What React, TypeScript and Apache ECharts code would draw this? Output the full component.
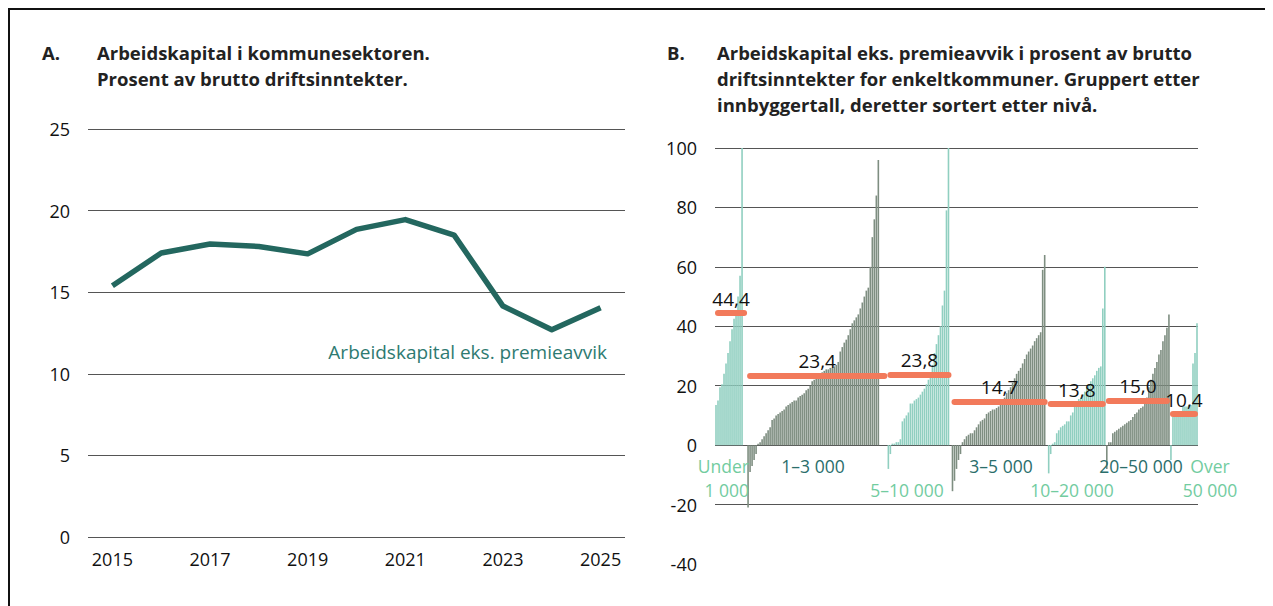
import React, { useEffect, useRef } from "react";
import * as echarts from "echarts";

// ---------- Panel A data ----------
const years = ["2015", "2016", "2017", "2018", "2019", "2020", "2021", "2022", "2023", "2024", "2025"];
const workingCapital = [15.4, 17.4, 17.95, 17.8, 17.35, 18.85, 19.45, 18.5, 14.15, 12.7, 14.05];
const lineSeriesName = "Arbeidskapital eks. premieavvik";

// ---------- Panel B data (sorted municipalities per population group) ----------
const groupNames = ["Under\n1 000", "1–3 000", "5–10 000", "3–5 000", "10–20 000", "20–50 000", "Over\n50 000"];
const groupAverages = [44.4, 23.4, 23.8, 14.7, 13.8, 15.0, 10.4];
const gapAfter = [2, 4, 1, 1, 0, 0, 0];

const under1000 = [13.5, 15, 19.5, 20.5, 24, 27.5, 31, 35, 39, 42.5, 44, 50, 57, 100];
const from1to3000 = [
  -21, -9, -7, -5, -3, 0.5, 1, 2, 3, 4, 5, 6, 8.5, 9, 10, 10.5, 11, 11.5, 12, 13, 13.5, 14, 14.5, 15, 15,
  16, 16.5, 17, 17.5, 18.5, 19, 20, 21.5, 22, 23, 23.5, 24, 24.5, 25, 25.5, 25.5, 26, 26, 26.5, 27, 28,
  31.5, 33, 34.5, 35.5, 37, 39, 41, 42, 43, 44, 46, 48, 50, 52, 53, 60, 70, 76, 84, 96,
];
const from5to10000 = [
  -8, -3, 0.5, 0.5, 1, 1, 2, 8, 9, 10, 11, 14, 14, 15, 15.5, 16, 17, 18, 19, 20.5, 22, 24, 27, 31, 34, 37,
  40, 47, 52, 79, 100,
];
const from3to5000 = [
  -15.5, -12, -8, -5, -3, 1, 2, 3, 3.5, 4, 4, 5, 6, 7, 8, 8.5, 9, 10.5, 11, 11.5, 12, 12, 12.5, 13, 14, 15,
  16, 17.5, 18.5, 19.5, 21, 22.5, 24, 25, 26, 27.5, 29, 30.5, 31.5, 32.5, 33.5, 35, 36, 37, 38, 59, 64,
];
const from10to20000 = [
  -9.5, -3, 0.5, 1, 4, 5, 6, 6.5, 7, 8, 8, 10, 11, 13, 14, 15.5, 16, 17, 18, 19.5, 20.5, 21.5, 22.5, 23.5,
  25, 26, 26.5, 46, 60,
];
const from20to50000 = [
  -8, 1, 1, 4, 4.5, 5, 5.5, 6, 6.5, 7, 7.5, 8, 8.5, 9.5, 10.5, 11, 12, 12.5, 13, 14.5, 16, 19.5, 22, 24, 26,
  28, 30.5, 32, 35, 37, 39.5, 44,
];
const over50000 = [-5, 9.5, 9.5, 9.5, 10, 10.5, 13, 13, 13, 13.5, 13.5, 27.5, 31, 41];

const yTicksA = { min: 0, max: 25, interval: 5 };
const yTicksB = { min: -40, max: 100, interval: 20 };

// ---------- styles ----------
const FONT = "'Open Sans', 'Noto Sans', sans-serif";
const LIGHT = "#90cfc0";
const DARK = "#7e8e81";
const LIGHT_TEXT = "#72cc9f";
const DARK_TEXT = "#2b6e6b";
const ORANGE = "#f27a5b";
const TEAL = "#23675f";
const GRID = "#555";

const groupLabelLayout = [
  { x: 741, y: 458, align: "right" },
  { x: 805, y: 458, align: "center" },
  { x: 899, y: 482, align: "center" },
  { x: 993, y: 458, align: "center" },
  { x: 1064, y: 482, align: "center" },
  { x: 1133, y: 458, align: "center" },
  { x: 1202, y: 458, align: "center" },
];
const GROUP_LINE_STEP = 24;

export default function App() {
  const ref = useRef<HTMLDivElement>(null);

  useEffect(() => {
    if (!ref.current) return;
    const chart = echarts.init(ref.current, null, { renderer: "svg" });

    const groups = [under1000, from1to3000, from5to10000, from3to5000, from10to20000, from20to50000, over50000];
    const cats: string[] = [];
    const barData: any[] = [];
    const starts: number[] = [];
    groups.forEach((g, gi) => {
      starts.push(cats.length);
      const color = gi % 2 === 0 ? LIGHT : DARK;
      g.forEach((v) => {
        barData.push({ value: v, itemStyle: { color } });
        cats.push(String(cats.length));
      });
      for (let k = 0; k < gapAfter[gi]; k++) {
        barData.push("-");
        cats.push(String(cats.length));
      }
    });
    const total = cats.length;

    const avgLines = groupAverages.map((avg, gi) => {
      const next = gi < groupAverages.length - 1 ? starts[gi + 1] : total;
      return [
        {
          coord: [starts[gi] + 1, avg],
          label: { formatter: avg.toFixed(1).replace(".", ",") },
        },
        { coord: [next - 2, avg] },
      ];
    });

    const splitColorsB: string[] = [];
    for (let v = yTicksB.min; v <= yTicksB.max; v += yTicksB.interval) {
      splitColorsB.push(v < -20 ? "rgba(0,0,0,0)" : GRID);
    }

    const titleStyle = { font: `bold 18.5px ${FONT}`, fill: "#222", lineHeight: 26 };

    const groupTexts: any[] = [];
    groupNames.forEach((name, gi) => {
      name.split("\n").forEach((line, li) => {
        groupTexts.push({
          type: "text",
          x: groupLabelLayout[gi].x,
          y: groupLabelLayout[gi].y + li * GROUP_LINE_STEP,
          z: 10,
          style: {
            text: line,
            font: `17.5px ${FONT}`,
            fill: gi % 2 === 0 ? LIGHT_TEXT : DARK_TEXT,
            align: li === 0 || groupLabelLayout[gi].align !== "right" ? groupLabelLayout[gi].align : "right",
            verticalAlign: "middle",
          },
        });
      });
    });

    const graphic: any[] = [
      { type: "text", x: 34, y: 31, style: { ...titleStyle, text: "A." } },
      {
        type: "text",
        x: 89,
        y: 31,
        style: { ...titleStyle, text: "Arbeidskapital i kommunesektoren.\nProsent av brutto driftsinntekter." },
      },
      { type: "text", x: 659, y: 31, style: { ...titleStyle, text: "B." } },
      {
        type: "text",
        x: 709,
        y: 31,
        style: {
          ...titleStyle,
          text:
            "Arbeidskapital eks. premieavvik i prosent av brutto\ndriftsinntekter for enkeltkommuner. Gruppert etter\ninnbyggertall, deretter sortert etter nivå.",
        },
      },
      {
        type: "text",
        x: 599,
        y: 344,
        style: {
          text: lineSeriesName,
          font: `19px ${FONT}`,
          fill: "#2e7a71",
          align: "right",
          verticalAlign: "middle",
        },
      },
      ...groupTexts,
    ];

    chart.setOption({
      animation: false,
      textStyle: { fontFamily: FONT },
      grid: [
        { left: 80, top: 121, width: 537, height: 408 },
        { left: 707, top: 140, width: 483, height: 416 },
      ],
      xAxis: [
        {
          type: "category",
          gridIndex: 0,
          data: years,
          boundaryGap: true,
          axisLine: { show: false },
          axisTick: { show: false },
          axisLabel: { interval: 1, color: "#111", fontSize: 18, margin: 13, fontFamily: FONT },
        },
        {
          type: "category",
          gridIndex: 1,
          data: cats,
          boundaryGap: true,
          show: false,
        },
      ],
      yAxis: [
        {
          type: "value",
          gridIndex: 0,
          ...yTicksA,
          axisLine: { show: false },
          axisTick: { show: false },
          axisLabel: { color: "#111", fontSize: 18, margin: 18, fontFamily: FONT },
          splitLine: { lineStyle: { color: GRID, width: 1 } },
        },
        {
          type: "value",
          gridIndex: 1,
          ...yTicksB,
          axisLine: { show: false },
          axisTick: { show: false },
          axisLabel: { color: "#111", fontSize: 18, margin: 18, lineHeight: 16, fontFamily: FONT },
          splitLine: { lineStyle: { color: splitColorsB, width: 1 } },
        },
      ],
      series: [
        {
          type: "line",
          name: lineSeriesName,
          xAxisIndex: 0,
          yAxisIndex: 0,
          data: workingCapital,
          symbol: "none",
          lineStyle: { color: TEAL, width: 5.5, join: "round" },
        },
        {
          type: "bar",
          xAxisIndex: 1,
          yAxisIndex: 1,
          data: barData,
          barCategoryGap: "20%",
          clip: true,
          markLine: {
            silent: true,
            symbol: "none",
            lineStyle: { color: ORANGE, width: 6, type: "solid", cap: "round" },
            label: {
              show: true,
              position: "insideMiddleTop",
              distance: 5,
              color: "#111",
              fontSize: 19,
              fontFamily: FONT,
            },
            data: avgLines,
          },
        },
      ],
      graphic,
    });

    return () => chart.dispose();
  }, []);

  return (
    <div
      style={{
        position: "relative",
        width: 1265,
        height: 598,
        borderTop: "2px solid #111",
        borderLeft: "2px solid #111",
        boxSizing: "border-box",
      }}
    >
      <div ref={ref} style={{ position: "absolute", left: -2, top: -2, width: 1265, height: 598 }} />
    </div>
  );
}
